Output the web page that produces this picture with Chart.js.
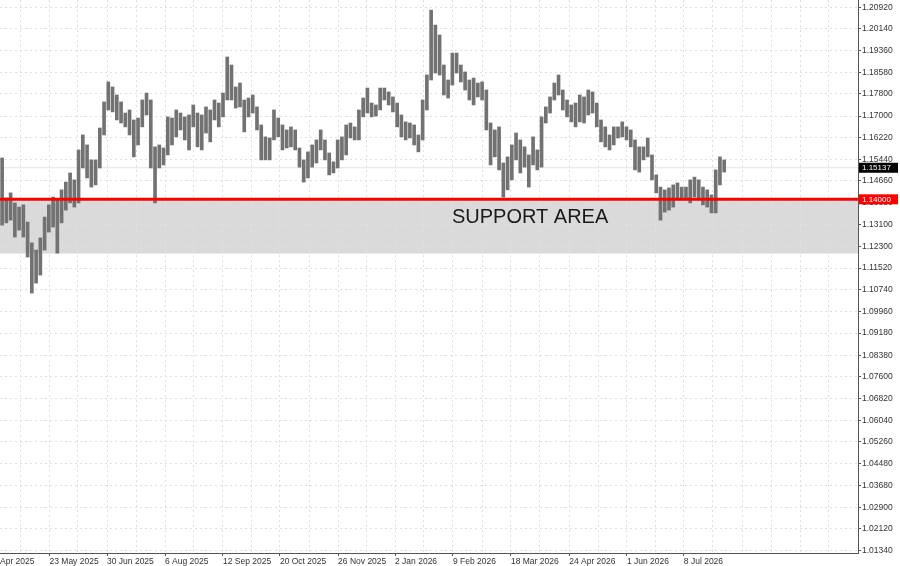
<!DOCTYPE html>
<html>
<head>
<meta charset="utf-8">
<script src="https://cdn.jsdelivr.net/npm/chart.js@4.4.1/dist/chart.umd.min.js"></script>
<style>
  html, body { margin: 0; padding: 0; background: #fff; }
  #wrap { width: 900px; height: 566px; }
</style>
</head>
<body>
<div id="wrap"><canvas id="chart"></canvas></div>
<script>
// daily bars squeezed two per slot
const barHigh = [
  1.1549, 1.1405, 1.1423, 1.1387, 1.1372, 1.1380, 1.1318, 1.1243, 1.1217, 1.1261,
  1.1336, 1.1380, 1.1408, 1.1398, 1.1434, 1.1462, 1.1495, 1.1470, 1.1578, 1.1632,
  1.1596, 1.1542, 1.1542, 1.1657, 1.1751, 1.1823, 1.1805, 1.1776, 1.1751, 1.1711,
  1.1722, 1.1686, 1.1693, 1.1758, 1.1783, 1.1758, 1.1589, 1.1596, 1.1585, 1.1697,
  1.1693, 1.1722, 1.1711, 1.1697, 1.1704, 1.1740, 1.1711, 1.1704, 1.1733, 1.1722,
  1.1758, 1.1747, 1.1783, 1.1913, 1.1884, 1.1805, 1.1819, 1.1758, 1.1765, 1.1776,
  1.1733, 1.1668, 1.1625, 1.1621, 1.1722, 1.1693, 1.1668, 1.1650, 1.1661, 1.1650,
  1.1585, 1.1542, 1.1571, 1.1596, 1.1614, 1.1650, 1.1614, 1.1567, 1.1535, 1.1614,
  1.1625, 1.1668, 1.1675, 1.1661, 1.1722, 1.1765, 1.1801, 1.1747, 1.1740, 1.1801,
  1.1801, 1.1787, 1.1769, 1.1747, 1.1704, 1.1679, 1.1675, 1.1668, 1.1632, 1.1758,
  1.1848, 1.2082, 1.2028, 1.1992, 1.1884, 1.1830, 1.1927, 1.1927, 1.1884, 1.1859,
  1.1830, 1.1837, 1.1819, 1.1823, 1.1794, 1.1675, 1.1650, 1.1661, 1.1531, 1.1553,
  1.1596, 1.1639, 1.1614, 1.1589, 1.1560, 1.1625, 1.1578, 1.1697, 1.1733, 1.1769,
  1.1819, 1.1848, 1.1794, 1.1758, 1.1740, 1.1747, 1.1776, 1.1769, 1.1794, 1.1787,
  1.1747, 1.1686, 1.1661, 1.1632, 1.1661, 1.1661, 1.1679, 1.1661, 1.1650, 1.1614,
  1.1589, 1.1589, 1.1621, 1.1560, 1.1488, 1.1444, 1.1434, 1.1441, 1.1452, 1.1459,
  1.1444, 1.1444, 1.1470, 1.1480, 1.1470, 1.1444, 1.1434, 1.1416, 1.1506, 1.1553,
  1.1542
];
const barLow = [
  1.1307, 1.1315, 1.1325, 1.1264, 1.1289, 1.1264, 1.1192, 1.1062, 1.1098, 1.1127,
  1.1217, 1.1282, 1.1300, 1.1206, 1.1315, 1.1361, 1.1387, 1.1372, 1.1387, 1.1513,
  1.1477, 1.1444, 1.1452, 1.1513, 1.1632, 1.1722, 1.1715, 1.1686, 1.1675, 1.1661,
  1.1632, 1.1553, 1.1596, 1.1661, 1.1704, 1.1513, 1.1387, 1.1513, 1.1524, 1.1560,
  1.1596, 1.1625, 1.1650, 1.1614, 1.1578, 1.1661, 1.1589, 1.1578, 1.1639, 1.1607,
  1.1686, 1.1661, 1.1697, 1.1758, 1.1758, 1.1729, 1.1733, 1.1643, 1.1697, 1.1711,
  1.1650, 1.1542, 1.1542, 1.1542, 1.1614, 1.1625, 1.1578, 1.1585, 1.1589, 1.1578,
  1.1516, 1.1462, 1.1477, 1.1516, 1.1531, 1.1578, 1.1542, 1.1488, 1.1495, 1.1513,
  1.1542, 1.1560, 1.1621, 1.1614, 1.1614, 1.1697, 1.1711, 1.1697, 1.1700, 1.1722,
  1.1758, 1.1740, 1.1715, 1.1661, 1.1625, 1.1614, 1.1621, 1.1596, 1.1571, 1.1614,
  1.1722, 1.1830, 1.1855, 1.1848, 1.1776, 1.1765, 1.1812, 1.1855, 1.1823, 1.1794,
  1.1758, 1.1740, 1.1769, 1.1758, 1.1650, 1.1524, 1.1553, 1.1506, 1.1408, 1.1434,
  1.1470, 1.1542, 1.1495, 1.1516, 1.1444, 1.1524, 1.1506, 1.1516, 1.1675, 1.1711,
  1.1758, 1.1776, 1.1722, 1.1697, 1.1679, 1.1661, 1.1679, 1.1675, 1.1704, 1.1711,
  1.1661, 1.1607, 1.1589, 1.1578, 1.1596, 1.1621, 1.1625, 1.1614, 1.1589, 1.1506,
  1.1498, 1.1542, 1.1553, 1.1470, 1.1423, 1.1325, 1.1354, 1.1361, 1.1372, 1.1398,
  1.1398, 1.1398, 1.1387, 1.1408, 1.1398, 1.1380, 1.1372, 1.1351, 1.1351, 1.1452,
  1.1498
];

const priceTicks = [
  1.20920, 1.20140, 1.19360, 1.18580, 1.17800, 1.17000, 1.16220, 1.15440, 1.14660,
  1.13880, 1.13100, 1.12300, 1.11520, 1.10740, 1.09960, 1.09180, 1.08380, 1.07600,
  1.06820, 1.06040, 1.05260, 1.04480, 1.03680, 1.02900, 1.02120, 1.01340
];

const dateLabels = [
  "Apr 2025", "23 May 2025", "30 Jun 2025", "6 Aug 2025", "12 Sep 2025", "20 Oct 2025",
  "26 Nov 2025", "2 Jan 2026", "9 Feb 2026", "18 Mar 2026", "24 Apr 2026", "1 Jun 2026", "8 Jul 2026"
];
const dateTickPos = [0, 11.65, 25.2, 38.85, 52.5, 65.9, 79.6, 93.0, 106.65, 120.3, 134.0, 147.6, 161.0];
const gridMidPos = [4.94, 18.36, 32.02, 45.67, 59.21, 72.75, 86.29, 99.82, 113.48, 127.13,
  140.79, 154.33, 167.86, 174.69, 181.52, 188.35, 195.17];

const lastPrice = 1.15137;
const supportLevel = 1.14;
const supportBottom = 1.1205;
const supportText = "SUPPORT AREA";

const X_MAX = 202;
const Y_MIN = 1.01253;
const Y_MAX = 1.21183;
const FONT = '"Liberation Sans", Arial, sans-serif';
const GRID = "#e0e0e0";

const xTickList = dateTickPos.map((v, i) => ({ value: v, label: dateLabels[i], date: true }))
  .concat(gridMidPos.map((v) => ({ value: v, label: "", date: false })))
  .sort((a, b) => a.value - b.value);

function drawTag(ctx, x, y, text, bg) {
  ctx.fillStyle = bg;
  ctx.fillRect(x, y - 5, 39, 10);
  ctx.fillStyle = "#fff";
  ctx.font = "8px " + FONT;
  ctx.textAlign = "left";
  ctx.textBaseline = "middle";
  ctx.fillText(text, x + 3, y + 0.5);
}

const overlay = {
  id: "overlay",
  afterDraw(chart) {
    const { ctx, scales: { x, y } } = chart;
    ctx.save();
    ctx.font = "20px " + FONT;
    ctx.fillStyle = "#1a1a1a";
    ctx.textAlign = "center";
    ctx.textBaseline = "middle";
    ctx.fillText(supportText, x.getPixelForValue(124.8), y.getPixelForValue(1.1333));
    drawTag(ctx, y.left + 1, y.getPixelForValue(lastPrice), lastPrice.toFixed(5), "#000");
    drawTag(ctx, y.left + 1, y.getPixelForValue(supportLevel), supportLevel.toFixed(5), "#ff0000");
    ctx.restore();
  },
};

const flatLine = (v) => [{ x: 0, y: v }, { x: X_MAX, y: v }];

new Chart(document.getElementById("chart"), {
  type: "bar",
  data: {
    datasets: [
      {
        type: "line",
        data: flatLine(supportLevel),
        borderColor: "#ff0000",
        borderWidth: 3,
        pointRadius: 0,
        fill: false,
        order: 0,
      },
      {
        type: "bar",
        data: barHigh.map((h, i) => ({ x: i + 0.5, y: [barLow[i], h] })),
        backgroundColor: "#727272",
        barThickness: 3,
        order: 1,
      },
      {
        type: "line",
        data: flatLine(lastPrice),
        borderColor: "#e2e2e2",
        borderWidth: 1,
        pointRadius: 0,
        fill: false,
        order: 2,
      },
      {
        type: "line",
        data: flatLine(supportLevel),
        borderWidth: 0,
        borderColor: "rgba(0,0,0,0)",
        pointRadius: 0,
        fill: { value: supportBottom },
        backgroundColor: "#dadada",
        order: 3,
      },
    ],
  },
  options: {
    responsive: true,
    maintainAspectRatio: false,
    animation: false,
    layout: { padding: 0 },
    plugins: {
      legend: { display: false },
      tooltip: { enabled: false },
      filler: { drawTime: "beforeDraw" },
    },
    scales: {
      x: {
        type: "linear",
        min: 0,
        max: X_MAX,
        offset: false,
        grid: {
          offset: false,
          color: (c) => (c.tick && c.tick.value > 0 ? GRID : "rgba(0,0,0,0)"),
          tickColor: (c) => (xTickList[c.index] && xTickList[c.index].date && c.tick.value > 0 ? "#555" : "rgba(0,0,0,0)"),
          tickLength: 3,
        },
        border: { display: true, color: "#555", width: 1, dash: [2, 3] },
        ticks: {
          autoSkip: false,
          maxRotation: 0,
          minRotation: 0,
          align: "start",
          padding: 1,
          color: "#333",
          font: { family: FONT, size: 8.5 },
          callback: (v, i) => (xTickList[i] ? xTickList[i].label : ""),
        },
        afterBuildTicks: (scale) => {
          scale.ticks = xTickList.map((t) => ({ value: t.value }));
        },
        afterFit: (scale) => {
          scale.height = 13;
          scale.paddingLeft = 0;
          scale.paddingRight = 0;
        },
      },
      y: {
        type: "linear",
        position: "right",
        min: Y_MIN,
        max: Y_MAX,
        grid: {
          color: GRID,
          tickColor: "#555",
          tickLength: 3,
        },
        border: { display: true, color: "#555", width: 1, dash: [2, 3] },
        ticks: {
          padding: 1,
          color: "#333",
          font: { family: FONT, size: 8.5 },
          callback: (v) => Number(v).toFixed(5),
        },
        afterBuildTicks: (scale) => {
          scale.ticks = priceTicks.map((v) => ({ value: v }));
        },
        afterFit: (scale) => {
          scale.width = 42;
          scale.paddingTop = 0;
          scale.paddingBottom = 0;
        },
      },
    },
  },
  plugins: [overlay],
});
</script>
</body>
</html>
